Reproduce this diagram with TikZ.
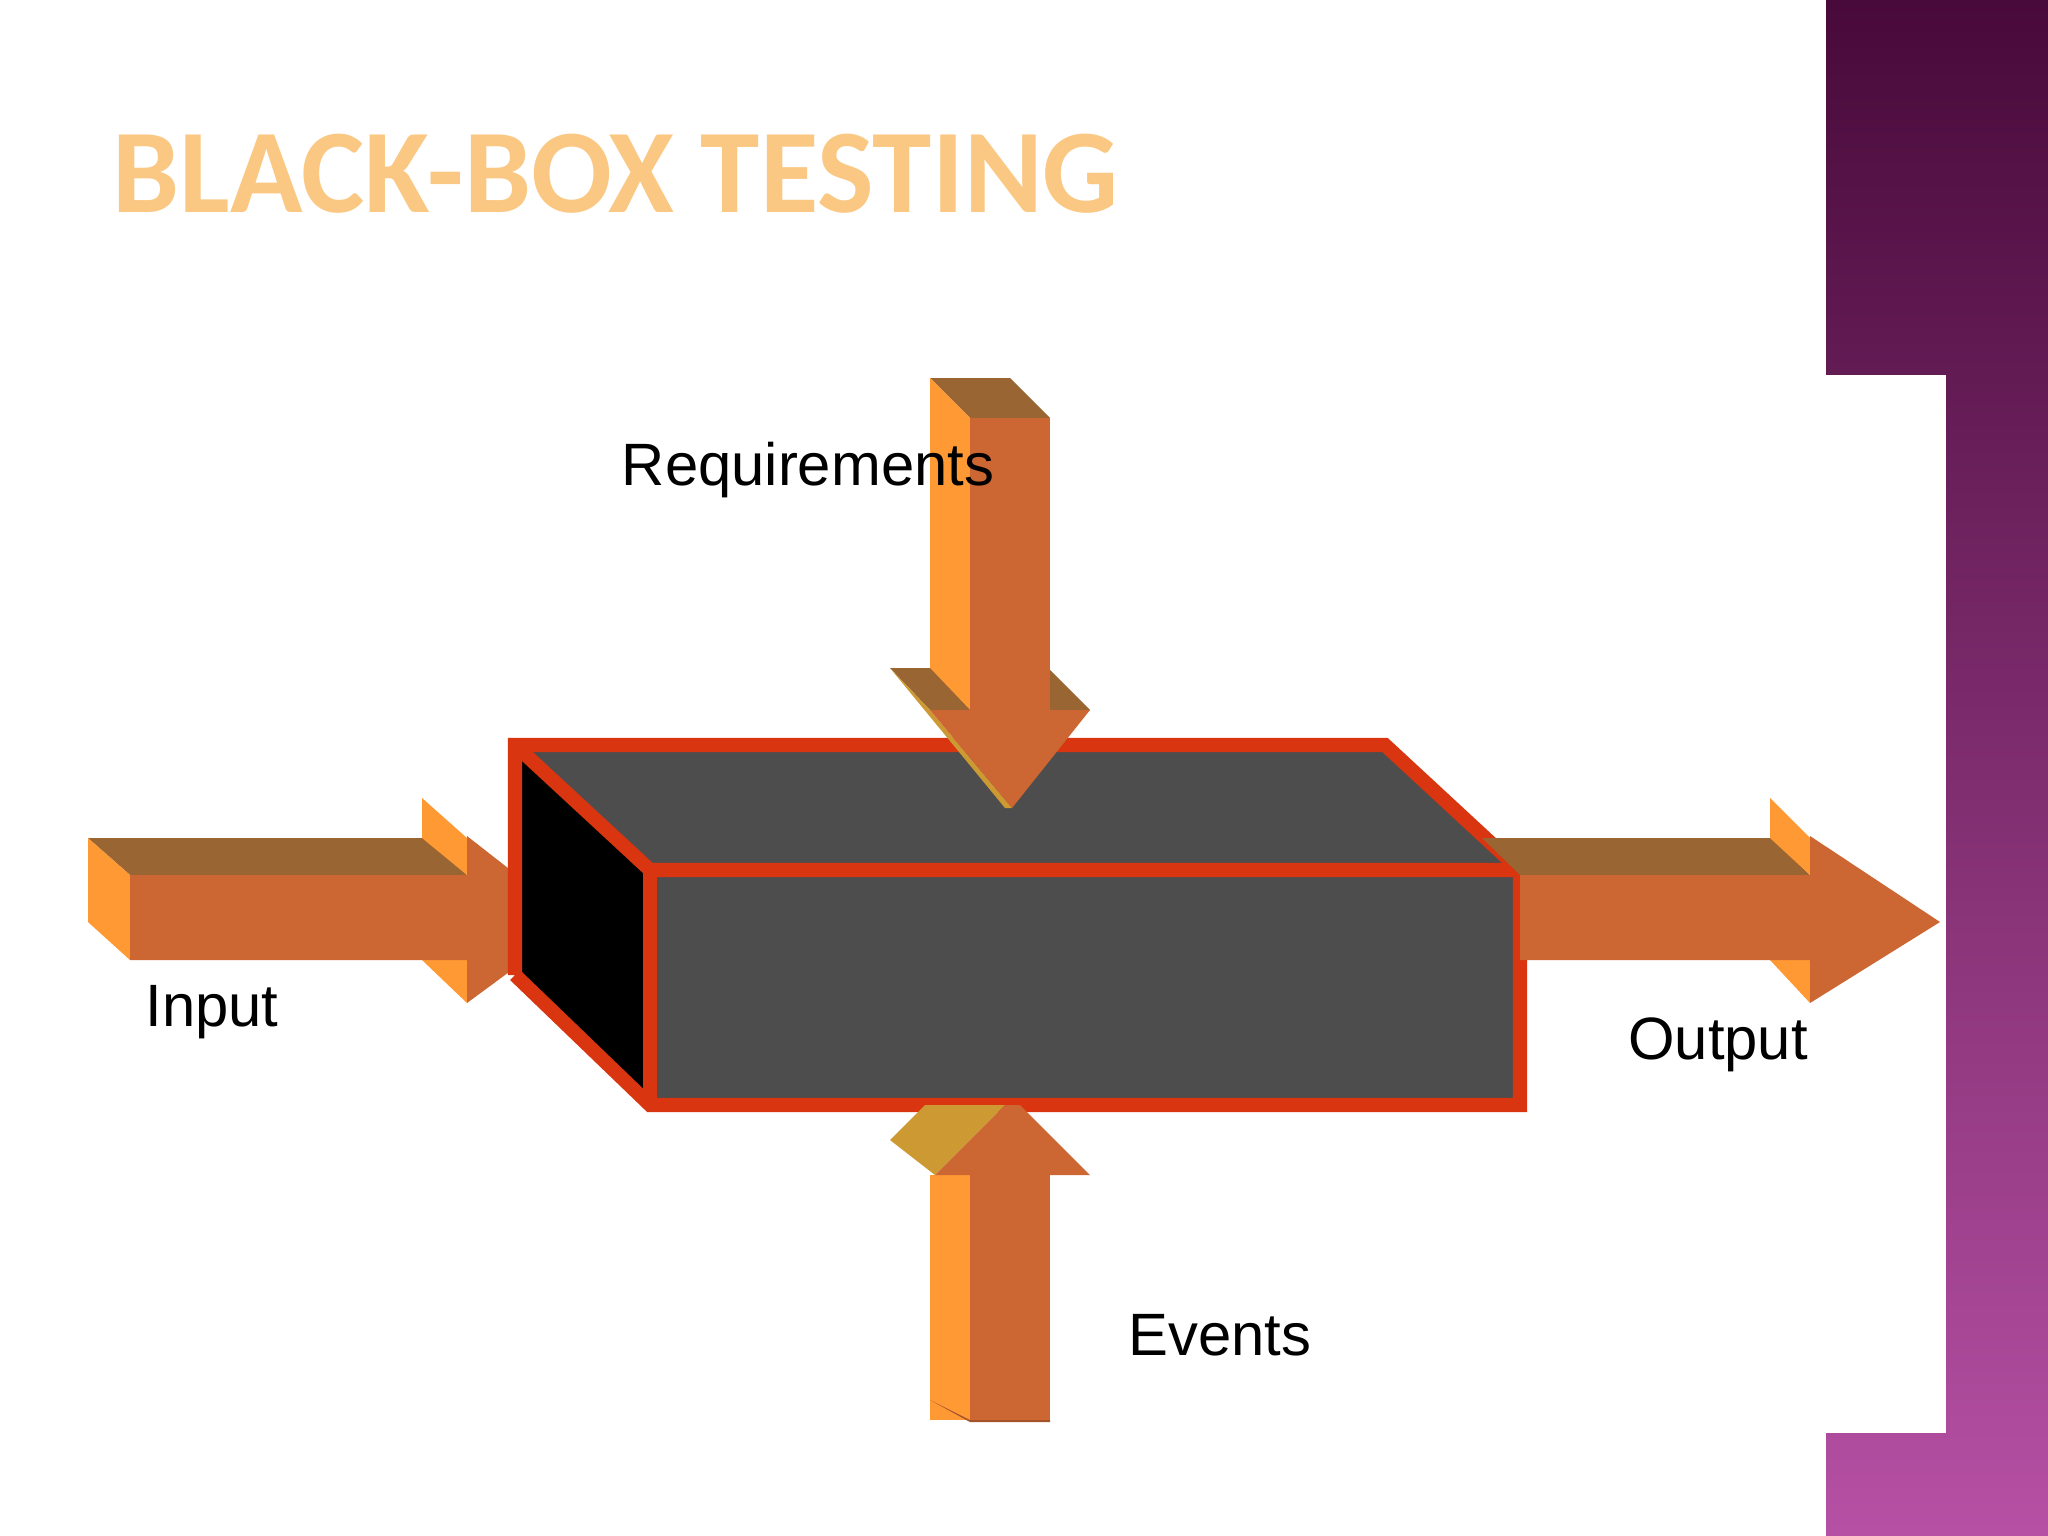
\documentclass[tikz,border=0pt]{standalone}
\usepackage{fontspec}
\setmainfont{Liberation Sans}
\newfontfamily\titlefont{Carlito}
\begin{document}
\begin{tikzpicture}[x=0.01cm,y=-0.01cm,
  front/.style={fill=arfront},
  side/.style={fill=arside},
  topf/.style={fill=artop},
  lbl/.style={font=\fontsize{17}{20}\selectfont,text=black}]
\definecolor{arfront}{HTML}{CC6633}
\definecolor{arside}{HTML}{FF9933}
\definecolor{artop}{HTML}{996633}
\definecolor{aryel}{HTML}{CC9933}
\definecolor{boxc}{HTML}{4D4D4D}
\definecolor{edge}{HTML}{D83510}
\useasboundingbox (0,0) rectangle (2048,1536);
\fill[white] (0,0) rectangle (2048,1536);
% purple bar
\shade[top color={rgb,255:red,72;green,10;blue,58},bottom color={rgb,255:red,182;green,80;blue,164}] (1826,0) rectangle (2048,1536);
\fill[white] (1826,375) rectangle (1946,1433);
% title
\node[anchor=west,inner sep=0,font=\titlefont\bfseries\fontsize{34}{40}\selectfont,text={rgb,255:red,250;green,200;blue,130},draw opacity=0] (title) at (112,174) {BLACK-BOX TESTING};
% input arrow
\fill[topf] (88,838) -- (430,838) -- (467,875) -- (130,875) -- cycle;
\fill[side] (88,838) -- (130,875) -- (130,960) -- (88,922) -- cycle;
\fill[side] (422,798) -- (467,838) -- (467,875) -- (422,838) -- cycle;
\fill[side] (422,960) -- (467,960) -- (467,1003) -- cycle;
\fill[front] (130,875) -- (467,875) -- (467,836) -- (577,922) -- (467,1003) -- (467,960) -- (130,960) -- cycle;
% box
\fill[black] (515,745) -- (650,870) -- (650,1105) -- (515,975) -- cycle;
\fill[boxc] (515,745) -- (1385,745) -- (1520,870) -- (650,870) -- cycle;
\fill[boxc] (650,870) rectangle (1520,1105);
\draw[edge,line width=4] (515,975) -- (515,745) -- (1385,745) -- (1520,870) -- (1520,1105) -- (650,1105) -- (515,975);
\draw[edge,line width=4] (515,745) -- (650,870) -- (1520,870);
\draw[edge,line width=4] (650,870) -- (650,1105);
% output arrow
\fill[topf] (1482,838) -- (1772,838) -- (1810,875) -- (1520,875) -- cycle;
\fill[side] (1770,798) -- (1810,838) -- (1810,875) -- (1770,838) -- cycle;
\fill[side] (1770,960) -- (1810,960) -- (1810,1003) -- cycle;
\fill[front] (1520,875) -- (1810,875) -- (1810,836) -- (1940,922) -- (1810,1003) -- (1810,960) -- (1520,960) -- cycle;
% requirements arrow
\fill[topf] (930,378) -- (1010,378) -- (1050,418) -- (970,418) -- cycle;
\fill[side] (930,378) -- (970,418) -- (970,710) -- (930,710) -- cycle;
\fill[front] (970,418) rectangle (1050,710);
\fill[topf] (890,668) -- (930,668) -- (970,710) -- (930,710) -- cycle;
\fill[topf] (1050,670) -- (1090,710) -- (1050,710) -- cycle;
\fill[aryel] (890,668) -- (930,710) -- (1012,808) -- (1005,808) -- cycle;
\fill[front] (930,710) -- (1090,710) -- (1012,808) -- cycle;
% events arrow
\fill[side] (930,1175) rectangle (970,1420);
\fill[front] (970,1175) rectangle (1050,1420);
\fill[arfront!80!black] (930,1400) -- (970,1420) -- (1050,1420) -- (1050,1422) -- (970,1422) -- (930,1400) -- cycle;
\fill[aryel] (890,1140) -- (925,1105) -- (1005,1105) -- (935,1175) -- cycle;
\fill[front] (935,1175) -- (1005,1105) -- (1020,1105) -- (1090,1175) -- cycle;
% labels
\node[lbl] (req) at (808,470) {Requirements};
\node[lbl] (inp) at (212,1012) {Input};
\node[lbl] (out) at (1718,1045) {Output};
\node[lbl] (ev) at (1220,1335) {Events};
\end{tikzpicture}
\end{document}
